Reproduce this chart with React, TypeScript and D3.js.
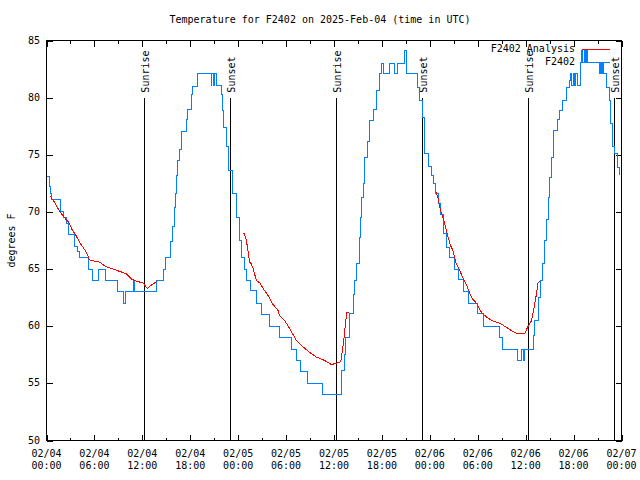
import React from 'react';
import * as d3 from 'd3';

const W = 640;
const H = 480;

const title = 'Temperature for F2402 on 2025-Feb-04 (time in UTC)';
const yLabel = 'degrees F';
const yTicks = [50, 55, 60, 65, 70, 75, 80, 85];
const xTickHours = [0, 6, 12, 18, 24, 30, 36, 42, 48, 54, 60, 66, 72];
const xMinorHours = [3, 9, 15, 21, 27, 33, 39, 45, 51, 57, 63, 69];
const xTickDates = ['02/04', '02/04', '02/04', '02/04', '02/05', '02/05', '02/05', '02/05', '02/06', '02/06', '02/06', '02/06', '02/07'];
const xTickTimes = ['00:00', '06:00', '12:00', '18:00', '00:00', '06:00', '12:00', '18:00', '00:00', '06:00', '12:00', '18:00', '00:00'];

const sunriseHours = [12.2, 36.25, 60.23];
const sunsetHours = [22.97, 47.02, 71.08];

const seriesNames = ['F2402 Analysis', 'F2402'];
const seriesColors = ['#ff0000', '#0080ff'];

// observed temperature (hours since 02/04 00:00 UTC, degrees F)
const observed: [number, number][] = [
  [0, 73.1], [0.35, 72.2], [0.55, 71.6], [0.65, 71.1], [1.7, 70.0], [2.13, 69.5], [2.46, 69.0], [2.8, 68.0],
  [3.52, 67.0], [3.85, 66.5], [4.14, 66.0], [5.3, 65.0], [5.8, 64.0], [6.52, 65.0], [7.43, 64.0], [8.94, 63.0],
  [9.69, 62.0], [9.86, 63.0], [10.9, 64.0], [11.03, 63.0], [13.74, 64.0], [14.66, 65.0], [14.91, 66.0],
  [15.54, 67.4], [15.79, 68.7], [16.04, 70.4], [16.17, 71.6], [16.33, 73.2], [16.45, 74.5], [16.63, 75.5],
  [16.88, 77.0], [17.51, 78.1], [17.71, 79.0], [18.13, 80.3], [18.33, 81.0], [18.96, 82.1], [20.6, 81.1],
  [20.7, 82.1], [20.88, 81.1], [21.0, 82.1], [21.26, 81.1], [21.88, 80.3], [22.0, 78.9], [22.18, 77.4],
  [22.59, 75.7], [22.84, 73.6], [23.35, 71.6], [23.85, 69.5], [24.19, 67.5], [24.4, 66.0], [24.81, 65.0],
  [25.1, 64.0], [25.53, 63.1], [26.28, 62.0], [26.98, 61.0], [27.94, 60.0], [29.2, 59.0], [30.66, 58.0],
  [31.33, 57.0], [31.79, 56.0], [32.74, 55.0], [34.62, 54.0], [36.97, 56.1], [37.34, 57.5], [37.47, 59.0],
  [37.88, 61.1], [38.38, 62.8], [38.6, 64.0], [38.81, 65.5], [39.14, 67.8], [39.3, 69.5], [39.44, 71.3],
  [39.64, 72.5], [39.85, 74.8], [40.14, 76.2], [40.48, 78.0], [40.89, 79.0], [41.32, 80.6], [41.64, 82.1],
  [41.94, 83.0], [42.14, 82.1], [42.9, 83.0], [43.61, 82.1], [43.95, 83.0], [44.86, 84.1], [45.08, 82.1],
  [46.43, 80.9], [46.74, 79.75], [47.08, 78.3], [47.37, 75.1], [47.78, 74.0], [48.21, 73.2], [48.5, 72.5],
  [48.75, 71.6], [49.04, 70.7], [49.34, 69.8], [49.75, 68.1], [50.09, 66.9], [50.41, 66.0], [51.13, 65.0],
  [51.54, 64.1], [52.17, 63.0], [52.79, 62.0], [53.92, 61.1], [54.67, 60.0], [56.77, 59.0], [57.1, 58.0],
  [58.93, 57.0], [59.49, 58.0], [59.7, 57.0], [59.85, 58.0], [60.94, 59.2], [61.15, 60.5], [61.57, 62.5],
  [61.87, 64.0], [62.12, 65.5], [62.41, 67.5], [62.62, 69.3], [62.82, 71.3], [63.03, 73.0], [63.25, 74.8],
  [63.53, 77.1], [63.95, 78.05], [64.29, 78.9], [64.62, 79.75], [65.13, 80.9], [65.45, 81.5], [65.63, 82.1],
  [65.79, 81.1], [65.95, 82.1], [66.13, 81.1], [66.29, 82.1], [66.45, 81.1], [66.88, 83.1], [67.0, 84.1],
  [67.17, 83.1], [67.33, 84.1], [67.5, 83.1], [67.67, 84.1], [67.79, 83.1], [69.3, 82.1], [69.39, 83.1],
  [69.49, 82.1], [69.59, 83.1], [69.71, 82.1], [70.14, 80.9], [70.47, 79.75], [70.68, 77.7], [70.89, 75.7],
  [71.18, 75.1], [71.47, 73.9], [71.72, 73.2],
];

// analysis segments
const analysisDay1: [number, number][] = [
  [0.5, 71.35], [1.0, 70.85], [1.63, 70.06], [2.26, 69.5], [2.76, 69.1], [3.17, 68.5], [3.72, 67.9],
  [4.14, 67.35], [4.67, 66.8], [4.97, 66.5], [5.39, 65.8], [6.02, 65.7], [6.64, 65.6], [7.48, 65.2],
  [8.52, 64.95], [9.36, 64.75], [9.99, 64.6], [10.69, 64.1], [11.44, 63.9], [12.07, 63.8], [12.62, 63.3],
  [13.12, 63.6], [13.82, 63.9],
];
const analysisDay2: [number, number][] = [
  [24.6, 68.16], [24.75, 68.1], [25.03, 67.5], [25.23, 66.6], [25.44, 65.6], [25.65, 65.45], [25.85, 65.1],
  [26.28, 64.0], [26.69, 63.8], [27.32, 63.1], [27.73, 62.7], [28.36, 61.9], [28.98, 61.4], [29.2, 60.9],
  [29.82, 60.5], [30.45, 59.8], [31.29, 58.75], [32.12, 58.2], [32.96, 57.7], [33.8, 57.3], [34.84, 57.0],
  [35.68, 56.65], [36.3, 56.75], [36.84, 56.9], [37.06, 57.9], [37.22, 58.75], [37.47, 60.5], [37.63, 61.2],
  [37.88, 61.2],
];
const analysisDay3: [number, number][] = [
  [48.75, 71.8], [49.04, 71.15], [49.34, 70.1], [49.75, 69.25], [50.16, 68.1], [50.59, 67.06], [50.91, 66.6],
  [51.25, 65.6], [51.67, 65.0], [52.09, 64.3], [52.59, 63.6], [53.22, 62.5], [53.85, 62.0], [54.47, 61.2],
  [55.1, 60.8], [55.73, 60.5], [56.77, 60.26], [57.61, 59.9], [58.23, 59.6], [58.77, 59.4], [59.9, 59.4],
  [60.31, 60.0], [60.74, 60.5], [61.03, 61.5], [61.32, 62.7], [61.57, 63.85], [61.82, 63.9],
];

const FONT = '"DejaVu Sans Mono", monospace';

export default function App() {
  const x = d3.scaleLinear().domain([0, 72]).range([46.5, 621.5]);
  const y = d3.scaleLinear().domain([50, 85]).range([440.5, 40.5]);
  const px = (v: number) => Math.round(v) + 0.5;
  const left = x(0);
  const right = x(72);
  const top = y(85);
  const bottom = y(50);

  const stepLine = d3
    .line<[number, number]>()
    .x((d) => x(d[0]))
    .y((d) => y(d[1]))
    .curve(d3.curveStepAfter);
  const lin = d3
    .line<[number, number]>()
    .x((d) => x(d[0]))
    .y((d) => y(d[1]));

  const sunTop = y(80);

  return (
    <svg
      width={W}
      height={H}
      viewBox={`0 0 ${W} ${H}`}
      style={{ position: 'absolute', left: 0, top: 0, background: '#fff' }}
      fontFamily={FONT}
      fontSize={10}
    >
      <rect x={0} y={0} width={W} height={H} fill="#fff" />
      <text x={320} y={20} textAnchor="middle" dominantBaseline="middle" fill="#000">
        {title}
      </text>
      <text
        transform={`translate(12,${(top + bottom) / 2}) rotate(-90)`}
        textAnchor="middle"
        dominantBaseline="middle"
        fill="#000"
      >
        {yLabel}
      </text>

      {/* ticks */}
      <g shapeRendering="crispEdges" stroke="#000" strokeWidth={1}>
        {yTicks.map((t) => (
          <g key={t}>
            <line x1={left} x2={left + 6} y1={px(y(t))} y2={px(y(t))} />
            <line x1={right - 6} x2={right} y1={px(y(t))} y2={px(y(t))} />
          </g>
        ))}
        {xTickHours.map((h) => (
          <g key={'M' + h}>
            <line x1={px(x(h))} x2={px(x(h))} y1={bottom} y2={bottom - 6} />
            <line x1={px(x(h))} x2={px(x(h))} y1={top} y2={top + 6} />
          </g>
        ))}
        {xMinorHours.map((h) => (
          <g key={'m' + h}>
            <line x1={px(x(h))} x2={px(x(h))} y1={bottom} y2={bottom - 3} />
            <line x1={px(x(h))} x2={px(x(h))} y1={top} y2={top + 3} />
          </g>
        ))}
      </g>
      {yTicks.map((t) => (
        <text key={'yl' + t} x={40} y={y(t)} textAnchor="end" dominantBaseline="middle" fill="#000">
          {t}
        </text>
      ))}
      {xTickHours.map((h, i) => (
        <g key={'xl' + h}>
          <text x={x(h)} y={454} textAnchor="middle" dominantBaseline="middle" fill="#000">
            {xTickDates[i]}
          </text>
          <text x={x(h)} y={466} textAnchor="middle" dominantBaseline="middle" fill="#000">
            {xTickTimes[i]}
          </text>
        </g>
      ))}

      {/* sunrise / sunset */}
      <g shapeRendering="crispEdges" stroke="#000" strokeWidth={1}>
        {sunriseHours.map((h) => (
          <line key={'sr' + h} x1={px(x(h))} x2={px(x(h))} y1={sunTop} y2={bottom} />
        ))}
        {sunsetHours.map((h) => (
          <line key={'ss' + h} x1={px(x(h))} x2={px(x(h))} y1={sunTop} y2={bottom} />
        ))}
      </g>
      {sunriseHours.map((h) => (
        <text
          key={'srt' + h}
          transform={`translate(${px(x(h)) + 1},${sunTop - 5}) rotate(-90)`}
          textAnchor="start"
          dominantBaseline="middle"
          fill="#000"
        >
          Sunrise
        </text>
      ))}
      {sunsetHours.map((h) => (
        <text
          key={'sst' + h}
          transform={`translate(${px(x(h)) + 1},${sunTop - 5}) rotate(-90)`}
          textAnchor="start"
          dominantBaseline="middle"
          fill="#000"
        >
          Sunset
        </text>
      ))}

      {/* data */}
      <g fill="none" strokeWidth={1} shapeRendering="crispEdges">
        <path d={stepLine(observed) || ''} stroke={seriesColors[1]} />
        {[analysisDay1, analysisDay2, analysisDay3].map((seg, i) => (
          <path key={'a' + i} d={lin(seg) || ''} stroke={seriesColors[0]} />
        ))}
      </g>

      {/* legend */}
      {seriesNames.map((name, i) => (
        <g key={name}>
          <text x={575} y={49 + i * 13} textAnchor="end" dominantBaseline="middle" fill="#000">
            {name}
          </text>
          <line
            x1={582}
            x2={610}
            y1={49.5 + i * 13}
            y2={49.5 + i * 13}
            stroke={seriesColors[i]}
            strokeWidth={1}
            shapeRendering="crispEdges"
          />
        </g>
      ))}

      {/* frame */}
      <rect
        x={left}
        y={top}
        width={right - left}
        height={bottom - top}
        fill="none"
        stroke="#000"
        strokeWidth={1}
        shapeRendering="crispEdges"
      />
    </svg>
  );
}
